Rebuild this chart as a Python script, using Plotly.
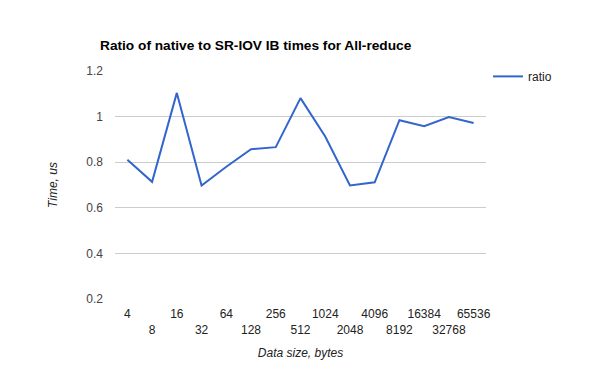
import plotly.graph_objects as go

sizes = ["4", "8", "16", "32", "64", "128", "256", "512", "1024", "2048",
         "4096", "8192", "16384", "32768", "65536"]
ratio = [0.811, 0.714, 1.104, 0.698, 0.78, 0.857, 0.866, 1.081, 0.913, 0.698,
         0.712, 0.984, 0.958, 0.998, 0.972]
y_ticks = [0.2, 0.4, 0.6, 0.8, 1.0, 1.2]
y_tick_text = ["0.2", "0.4", "0.6", "0.8", "1", "1.2"]

tick_text = [s if i % 2 == 0 else "<br>" + s for i, s in enumerate(sizes)]

fig = go.Figure()
fig.add_trace(go.Scatter(x=sizes, y=ratio, mode="lines", name="ratio",
                         line=dict(color="#3366cc", width=2)))

fig.update_layout(
    width=600, height=371,
    paper_bgcolor="white", plot_bgcolor="white",
    margin=dict(l=115, r=114, t=71, b=72),
    font=dict(family="Liberation Sans, Arial, sans-serif", size=12, color="#222"),
    title=dict(text="<b>Ratio of native to SR-IOV IB times for All-reduce</b>",
               x=100/600, xanchor="left", xref="container",
               y=1 - 45/371, yanchor="middle", yref="container",
               font=dict(size=13.7, color="#000")),
    showlegend=True,
    legend=dict(x=(488 - 115) / 371, y=1.04, xanchor="left", yanchor="top",
                font=dict(size=12, color="#222"), bgcolor="rgba(0,0,0,0)"),
    xaxis=dict(type="category", tickmode="array", tickvals=sizes, ticktext=tick_text,
               range=[-0.5, len(sizes) - 0.5], tickangle=0, automargin=False,
               ticklabelstandoff=6,
               showgrid=False, zeroline=False, showline=False, ticks="",
               tickfont=dict(size=12, color="#222"),
               title=dict(text="<i>Data size, bytes</i>", font=dict(size=12, color="#222"),
                          standoff=13)),
    yaxis=dict(range=[0.2, 1.2], tickmode="array", tickvals=y_ticks, ticktext=y_tick_text,
               automargin=False, ticklabelstandoff=11,
               showgrid=True, gridcolor="#cccccc", zeroline=False, showline=False,
               ticks="", tickfont=dict(size=12, color="#444"),
               title=dict(text="<i>Time, us</i>", font=dict(size=12, color="#222"),
                          standoff=26)),
)
fig.write_html("out.html", config={"displayModeBar": False},
               post_script="document.body.style.margin='0';")
